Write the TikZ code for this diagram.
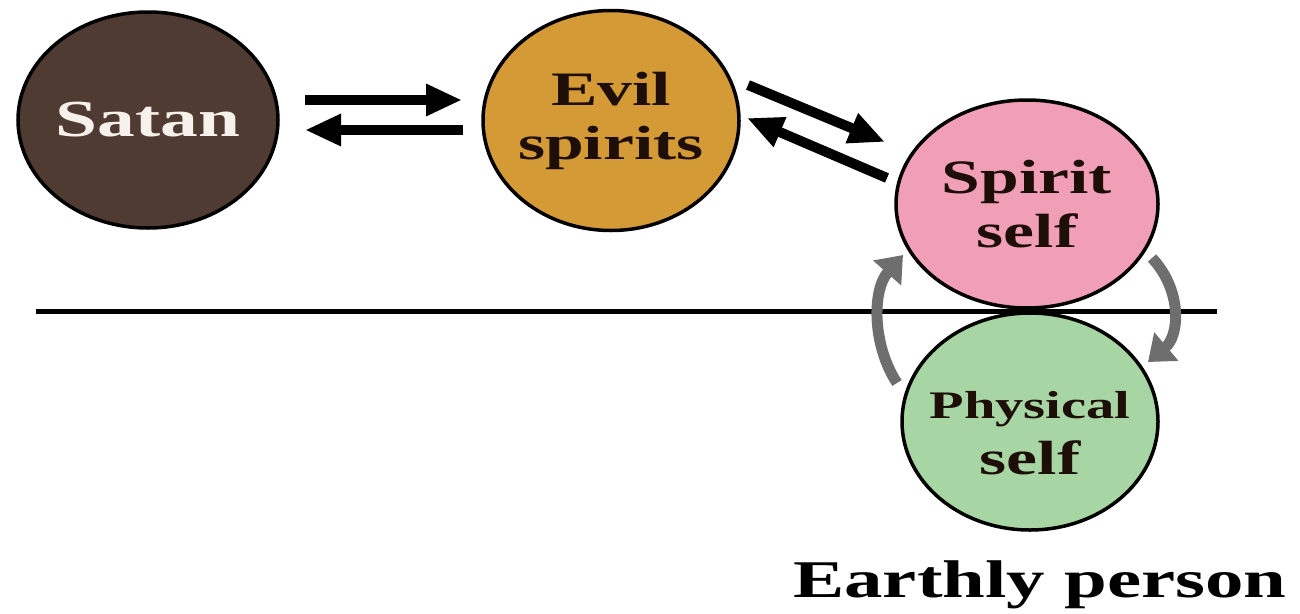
\documentclass[tikz,border=0pt]{standalone}
\usepackage{fontspec}
\setmainfont{Liberation Serif}[FakeStretch=1.45]
\usetikzlibrary{shapes.geometric,arrows.meta}
\definecolor{satanfill}{HTML}{503B33}
\definecolor{satantext}{HTML}{F7F1EC}
\definecolor{evilfill}{HTML}{D49A36}
\definecolor{spiritfill}{HTML}{F19FB6}
\definecolor{physfill}{HTML}{A8D5A4}
\definecolor{darktext}{HTML}{1E0E08}
\definecolor{arrowgray}{HTML}{6E6E6E}
\begin{document}
\begin{tikzpicture}[x=1pt,y=-1pt,
  blob/.style={ellipse, draw=black, line width=3.5pt, inner sep=-40pt, align=center,
    text=darktext, font=\bfseries\fontsize{48}{54}\selectfont},
  bigarrow/.style={line width=10pt, -{Triangle[length=36pt,width=30pt]}},
  grayarrow/.style={draw=arrowgray, line width=11pt, -{Triangle[length=24pt,width=36pt]}}
]
\useasboundingbox (0,0) rectangle (1300,613);

\node[blob, fill=satanfill, text=satantext, minimum width=260pt, minimum height=216pt,
  font=\bfseries\fontsize{52}{58}\selectfont] (satan) at (148,120) {Satan};
\node[blob, fill=evilfill, minimum width=256pt, minimum height=220pt] (evil) at (611,120.5) {Evil\\spirits};
\node[blob, fill=spiritfill, minimum width=262pt, minimum height=208pt] (spirit) at (1027,204) {Spirit\\self};
\node[blob, fill=physfill, minimum width=256pt, minimum height=217pt,
  font=\bfseries\fontsize{39}{56}\selectfont] (phys) at (1030,421.5) {\rule{0pt}{51pt}Physical\\{\fontsize{48}{54}\selectfont self}};

\coordinate (lineL) at (36,311);
\coordinate (lineR) at (1217,311);
\draw[line width=5pt] (lineL) -- (lineR);

% black arrows
\coordinate (a1s) at (305,100); \coordinate (a1e) at (462,100);
\coordinate (a2s) at (463,130); \coordinate (a2e) at (305,130);
\coordinate (a3s) at (748,85);  \coordinate (a3e) at (885,142);
\coordinate (a4s) at (887,178); \coordinate (a4e) at (747,118);
\draw[bigarrow] (a1s) -- (a1e);
\draw[bigarrow] (a2s) -- (a2e);
\draw[bigarrow] (a3s) -- (a3e);
\draw[bigarrow] (a4s) -- (a4e);

% gray cycle arrows
\coordinate (g1s) at (897,383); \coordinate (g1e) at (903,255);
\coordinate (g2s) at (1152,258); \coordinate (g2e) at (1148,362);
\draw[grayarrow] (g1s) .. controls (872,345) and (872,290) .. (g1e);
\draw[grayarrow] (g2s) .. controls (1182,290) and (1180,335) .. (g2e);

\node[anchor=base west, inner sep=0pt, font=\bfseries\fontsize{53}{60}\selectfont] (earthly) at (793,597) {Earthly person};
\end{tikzpicture}
\end{document}
